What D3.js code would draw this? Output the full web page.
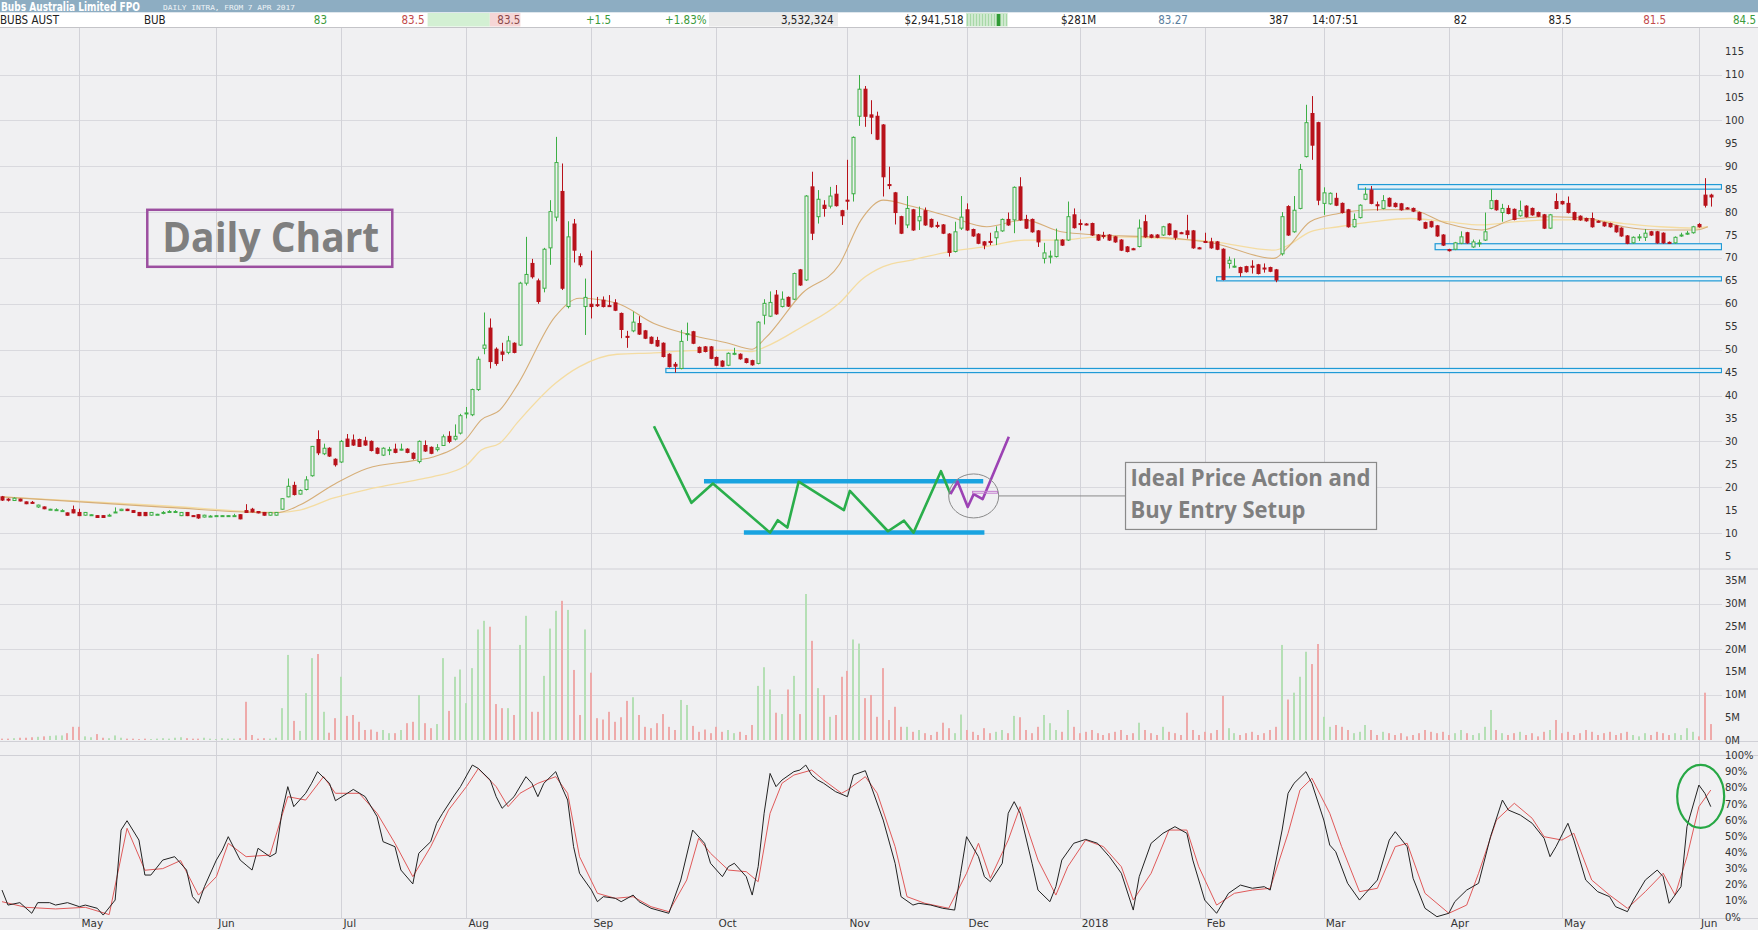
<!DOCTYPE html>
<html><head><meta charset="utf-8">
<script src="https://cdn.jsdelivr.net/npm/d3@7/dist/d3.min.js"></script>
<style>html,body{margin:0;padding:0;background:#f0f0f2;overflow:hidden}</style>
</head><body><svg id="c" width="1758" height="930"></svg>
<script>
// ---------------- DATA ----------------
const monthDays=[13,23,21,21,21,21,22,20,19,21,20,21,19,23,3];
const monthLabels=["","May","Jun","Jul","Aug","Sep","Oct","Nov","Dec","2018","Feb","Mar","Apr","May","Jun"];
const priceTicks=[115,110,105,100,95,90,85,80,75,70,65,60,55,50,45,40,35,30,25,20,15,10,5];
const priceGrid=[110,100,90,80,70,60,50,40,30,20,10];
const volTicks=[35,30,25,20,15,10,5,0];
const volGrid=[30,20,10];
const stochTicks=[100,90,80,70,60,50,40,30,20,10,0];
// [open, high, low, close]
const ohlc=[
[17.9,18.1,17.0,17.2],[17.4,17.6,16.9,17.2],[17.1,17.8,17.0,17.6],[17.4,17.5,16.9,17.0],[16.8,16.9,16.3,16.4],[16.7,17.0,16.4,16.6],[15.7,16.2,15.5,16.1],[15.7,15.8,15.2,15.3],[15.2,15.3,15.1,15.2],[15.1,15.4,14.9,15.1],[14.9,15.2,14.6,14.9],[14.4,14.5,13.8,13.9],[15.1,16.0,14.3,14.4],
// May 2017
[14.5,15.3,13.7,13.8],[13.9,14.6,13.8,14.5],[14.0,14.1,13.9,14.0],[13.8,13.9,13.3,13.4],[13.8,13.9,13.3,13.4],[13.8,14.2,13.6,13.9],[14.6,15.6,14.5,14.6],[14.9,15.3,14.8,15.2],[15.2,15.3,14.8,14.9],[14.9,15.0,14.4,14.5],[14.5,14.6,13.7,13.8],[14.5,14.6,13.7,13.8],[13.9,14.6,13.8,14.5],[14.1,14.2,14.0,14.1],[14.4,14.8,14.1,14.5],[14.6,15.0,14.5,14.7],[14.6,15.0,14.5,14.7],[13.8,14.6,13.7,14.5],[14.5,14.6,13.7,13.8],[13.8,13.9,13.6,13.7],[14.0,14.1,13.1,13.3],[13.5,14.0,13.4,13.9],[13.7,13.9,13.6,13.7],
// Jun
[13.8,13.9,13.7,13.8],[13.8,13.9,13.7,13.8],[13.8,13.9,13.7,13.8],[13.8,14.2,13.6,13.8],[14.0,14.1,13.0,13.1],[14.9,16.3,14.4,14.5],[15.2,15.5,14.5,14.6],[14.7,14.8,14.3,14.4],[14.5,14.6,13.8,13.9],[13.9,14.6,13.8,14.5],[13.9,14.6,13.8,14.5],[15.2,17.6,15.1,17.5],[17.9,21.9,17.8,20.2],[20.4,21.2,18.2,18.4],[18.5,19.5,18.4,19.3],[19.5,22.4,19.3,21.6],[22.5,29.0,22.3,28.9],[30.4,32.4,27.0,27.5],[27.3,29.5,27.0,28.5],[28.5,28.7,26.6,26.8],[26.1,26.3,24.5,24.9],
// Jul
[25.5,30.3,25.3,30.0],[30.5,31.6,28.8,28.9],[30.3,31.5,29.0,29.2],[30.4,30.6,28.8,28.9],[30.1,31.0,29.0,29.2],[30.0,30.2,27.8,28.0],[28.5,28.7,27.2,27.4],[27.0,28.7,26.8,28.5],[28.0,28.8,27.0,28.2],[28.3,29.5,27.4,27.6],[28.3,29.5,28.0,28.3],[28.3,28.5,27.4,27.6],[27.4,27.6,26.0,26.3],[25.6,30.2,25.2,30.0],[29.1,30.2,27.7,27.9],[28.7,28.9,27.2,27.4],[28.2,29.4,27.8,28.6],[29.1,31.5,29.0,31.0],[31.1,32.2,29.6,30.0],[30.5,33.7,30.2,31.1],[31.8,36.0,31.5,35.6],
// Aug
[36.0,37.5,35.0,36.2],[35.8,41.5,35.5,41.3],[41.3,48.5,41.0,47.9],[50.3,58.1,49.0,51.0],[54.7,56.8,45.9,47.4],[50.1,50.5,46.5,47.0],[49.5,51.5,47.5,49.0],[49.4,53.0,49.0,51.9],[51.4,51.6,49.2,49.4],[51.0,64.8,50.8,64.5],[64.5,74.6,64.0,66.4],[68.8,69.8,65.5,65.9],[65.0,65.5,60.0,60.5],[63.4,72.2,62.5,71.9],[72.2,82.6,68.5,80.1],[78.9,96.4,78.0,90.8],[84.5,90.6,63.0,63.4],[59.4,78.0,59.0,74.6],[77.4,78.5,69.0,71.7],[70.3,71.0,68.0,68.5],[59.4,65.5,53.2,61.4],
// Sep
[59.9,71.6,56.8,59.4],[59.8,61.5,59.3,59.7],[60.8,61.6,59.2,59.4],[59.6,61.9,59.3,59.5],[60.2,61.0,58.4,58.6],[57.9,58.1,52.5,54.4],[52.9,54.1,50.4,52.8],[54.1,58.3,53.8,56.0],[55.7,57.3,53.2,53.4],[54.1,54.3,52.3,52.5],[52.7,52.9,51.2,51.4],[52.0,52.8,50.6,50.8],[51.4,51.6,48.3,48.5],[49.0,49.2,46.1,46.3],[46.8,47.3,45.0,46.4],[45.9,54.3,45.7,51.8],[53.4,55.9,51.9,53.5],[53.9,54.1,51.2,51.4],[50.5,50.7,49.2,49.4],[50.6,50.8,49.4,49.6],[50.6,50.8,47.9,48.1],
// Oct
[48.3,48.5,46.4,46.6],[47.5,47.7,46.2,46.4],[46.6,49.4,46.4,49.2],[49.0,50.4,48.8,49.2],[49.0,49.2,47.8,48.0],[48.0,48.2,47.0,47.2],[47.6,47.8,46.5,46.7],[47.0,56.2,46.8,56.0],[57.5,61.0,55.5,60.1],[57.3,62.7,57.1,60.3],[61.9,63.0,57.6,57.8],[59.4,62.7,59.2,61.0],[61.4,61.6,59.3,59.5],[61.0,66.8,60.8,66.6],[67.4,67.6,63.9,64.1],[65.2,83.7,65.0,83.5],[85.5,88.8,73.9,75.4],[79.0,84.8,77.5,82.8],[81.5,82.6,79.0,80.8],[81.3,85.5,80.8,83.5],[83.9,85.9,81.2,81.4],[80.3,80.5,77.2,79.2],
// Nov
[82.6,91.4,80.5,82.4],[84.0,96.5,82.3,96.3],[100.9,109.9,98.8,106.8],[106.8,107.5,98.6,100.9],[101.2,104.4,97.0,100.7],[100.9,101.9,95.7,95.9],[99.0,99.2,83.4,87.7],[86.0,89.9,85.0,85.8],[84.2,84.4,77.3,79.9],[79.0,79.2,75.2,75.4],[77.2,83.5,76.5,80.8],[80.5,80.7,75.9,76.1],[78.1,81.2,76.1,79.0],[80.3,81.0,77.0,77.2],[78.4,78.6,76.6,76.8],[77.1,77.9,76.5,77.0],[77.2,77.4,75.2,75.4],[75.2,75.4,70.3,71.2],[71.4,77.9,71.2,75.7],[76.5,83.5,76.1,78.9],
// Dec
[80.5,81.9,75.9,76.1],[76.2,76.4,74.6,74.8],[75.2,75.4,73.0,73.2],[73.5,73.7,71.9,72.8],[73.6,75.5,72.8,73.5],[74.4,76.9,72.8,75.7],[75.9,78.6,75.7,78.4],[78.4,79.9,77.0,77.2],[78.3,85.6,75.4,85.4],[85.5,87.6,78.1,78.3],[78.4,79.4,76.3,76.5],[78.4,78.6,75.5,75.7],[75.9,76.1,72.4,73.5],[69.9,73.3,68.8,71.1],[70.3,71.6,68.8,70.4],[70.3,76.4,70.1,73.9],[73.9,74.1,72.6,72.8],[73.9,82.3,73.7,79.0],[79.4,80.8,76.4,76.6],
// Jan 2018
[77.5,78.4,76.0,77.4],[77.4,77.6,77.1,77.3],[77.5,77.7,74.8,75.0],[75.0,75.2,73.7,73.9],[74.9,75.7,74.2,74.8],[75.0,75.2,73.7,73.9],[74.6,74.8,73.3,73.5],[73.9,74.1,71.5,71.7],[72.4,72.6,71.2,71.4],[72.0,72.2,71.7,71.9],[72.5,78.4,72.3,76.5],[77.9,79.4,74.4,74.6],[75.0,75.2,74.3,74.5],[75.0,75.2,74.3,74.5],[75.0,77.0,74.8,76.8],[77.4,77.6,74.9,75.1],[75.9,76.1,73.9,74.5],[75.5,75.7,75.2,75.4],[75.9,79.4,74.2,75.1],[75.9,76.1,72.0,72.2],[72.2,72.4,71.9,72.1],
// Feb
[73.6,75.5,73.3,73.5],[73.5,74.4,72.0,72.2],[73.5,73.7,71.7,71.9],[71.9,72.1,65.1,65.3],[68.8,70.3,67.7,69.5],[68.1,69.9,67.9,68.2],[67.9,68.1,65.9,66.8],[68.1,68.3,66.8,67.0],[68.2,69.5,66.6,68.1],[68.5,68.7,66.4,66.6],[67.8,68.8,66.8,67.7],[67.9,68.1,66.9,67.1],[67.4,67.6,64.7,65.2],[70.9,80.0,70.5,79.0],[81.2,81.5,74.8,75.0],[75.7,83.5,75.5,80.4],[80.8,90.5,80.6,89.3],[92.1,103.4,91.9,99.5],[101.5,105.3,91.4,94.6],[99.5,99.7,81.5,82.6],
// Mar
[81.9,85.4,79.4,84.2],[81.8,84.3,81.6,84.1],[83.0,84.2,81.3,81.5],[81.9,82.1,79.7,79.9],[80.5,80.7,76.6,76.8],[76.8,79.7,76.6,78.4],[78.8,81.7,78.6,81.5],[82.8,85.4,82.6,83.9],[84.8,85.7,81.7,81.9],[81.6,82.3,80.3,81.5],[80.8,83.7,80.6,82.5],[83.0,83.2,81.1,81.3],[81.9,82.1,81.0,81.2],[81.8,82.0,80.3,80.5],[80.9,81.1,80.6,80.8],[80.8,81.0,80.0,80.2],[79.9,80.1,78.1,78.3],[77.7,77.9,76.3,76.5],[77.9,78.1,76.6,76.8],[77.0,77.2,74.6,74.8],[75.0,75.2,72.6,72.8],
// Apr
[71.8,72.0,71.4,71.7],[71.9,73.5,71.7,73.3],[73.2,75.8,73.0,74.6],[75.5,75.7,73.1,73.3],[72.4,74.0,72.2,73.5],[73.2,74.0,72.4,73.3],[73.9,79.9,73.7,75.7],[80.8,85.0,80.6,82.5],[82.5,82.7,80.3,80.5],[79.9,81.8,77.9,80.8],[80.8,81.5,79.5,79.7],[80.6,80.8,78.2,78.4],[79.2,82.5,79.0,80.3],[81.3,81.5,78.8,79.0],[80.8,81.0,79.2,79.4],[79.9,80.1,78.9,79.1],[79.4,79.6,76.3,76.5],[76.5,79.6,76.3,79.4],[82.3,84.1,80.6,80.8],
// May
[82.3,82.5,81.6,81.8],[81.9,83.4,79.7,79.9],[79.9,80.1,78.2,78.4],[79.1,79.3,78.1,78.3],[78.6,78.8,77.9,78.1],[78.6,79.9,76.6,76.8],[78.0,78.2,77.7,77.9],[77.7,77.9,76.8,77.0],[77.5,77.7,76.6,76.8],[77.0,77.2,75.5,75.7],[76.5,76.7,74.6,74.8],[74.8,75.0,73.0,73.2],[73.3,74.7,73.1,74.5],[74.5,75.2,73.7,74.6],[74.5,76.3,73.7,75.4],[75.7,75.9,74.8,75.0],[75.7,75.9,73.1,73.3],[75.4,75.6,73.1,73.3],[73.4,73.6,73.1,73.3],[73.3,74.7,73.1,74.5],[74.9,75.5,74.6,75.0],[75.3,75.9,75.0,75.4],[75.5,77.0,75.3,76.8],
// Jun
[77.3,77.6,76.6,76.8],[83.7,87.4,81.0,81.5],[83.7,84.0,81.2,83.3]
];
// volume in millions, one per day
const volume=[
0.3,0.3,0.4,0.5,0.5,0.6,0.7,0.8,0.9,1.0,1.0,1.5,2.9,
2.9,0.8,0.6,1.3,0.5,0.4,1.0,0.5,0.3,0.3,0.2,0.3,0.2,0.3,0.4,0.3,0.5,0.6,0.4,0.3,0.3,0.5,0.3,
0.2,0.4,0.3,0.3,0.4,8.4,1.1,0.3,0.4,0.3,0.5,7.0,18.7,4.2,2.0,10.3,18.0,18.9,6.2,1.6,4.8,
13.9,5.3,5.5,4.0,2.2,2.3,1.8,2.2,1.5,1.5,2.2,3.7,4.0,9.9,3.7,2.6,3.5,18.0,6.4,13.9,15.5,
8.1,15.8,24.3,26.2,24.9,7.9,7.0,7.0,5.5,20.9,27.3,6.2,6.2,14.1,24.5,28.4,30.6,28.6,15.4,5.5,24.3,
14.8,4.8,4.5,6.2,4.0,5.0,8.6,9.4,5.5,2.9,2.6,3.7,5.7,2.9,2.2,8.8,7.7,3.1,1.8,2.3,1.5,
2.9,1.8,2.2,1.5,1.8,1.1,3.3,11.9,16.0,11.1,6.0,5.7,11.1,14.1,5.7,32.1,21.8,11.4,9.9,5.1,5.5,13.9,
15.2,22.1,21.2,9.2,9.9,5.1,15.8,4.4,7.3,2.9,2.9,1.8,2.2,1.5,1.1,1.8,3.8,2.6,1.5,5.6,
2.2,1.8,1.1,2.6,1.5,1.8,2.2,1.5,5.3,5.0,2.2,1.5,2.9,5.5,3.7,2.2,1.8,6.6,2.9,
1.5,1.8,2.2,1.5,1.1,1.5,1.8,2.2,1.1,1.5,3.8,2.2,1.5,1.1,2.9,1.8,1.5,1.1,6.0,2.2,1.1,
1.8,1.5,2.2,9.7,2.6,1.5,1.1,1.5,1.8,1.1,1.5,2.2,2.9,20.9,8.9,10.4,13.9,19.4,16.7,21.1,
5.1,2.9,3.3,2.9,2.2,1.5,1.8,3.3,2.2,1.1,1.8,1.5,1.1,1.5,0.8,1.1,1.5,2.2,1.8,1.5,1.8,
1.1,1.5,2.2,1.5,1.1,1.5,2.9,6.6,2.2,1.5,1.1,1.5,1.8,1.1,1.5,0.8,1.8,2.2,4.4,
1.5,1.8,1.1,1.5,2.2,1.8,1.1,1.5,1.8,1.1,1.5,1.8,1.1,0.8,1.5,1.1,1.8,1.5,1.1,1.5,1.1,2.6,1.8,
0.8,10.4,3.5
];
// moving averages: [day index, price]
const maShort=[[0,17.9],[27.7,15.6],[46.1,14.4],[50,16.1],[55.6,20.5],[61.3,24.1],[69.7,25.9],[72.4,26.6],[78,30.6],[80.5,34.7],[83.6,36.8],[86.7,42.6],[92.9,57.2],[97,61.2],[103.3,60.1],[109.5,55.7],[115.7,53.2],[122,51.4],[126,50.1],[128.2,52.5],[134.4,62.3],[140.6,68.5],[144.3,78.3],[148,82.6],[153,81.2],[159.2,79.0],[165.4,76.8],[171.7,78.3],[177.9,75.7],[184.1,75.0],[194.5,74.5],[203.5,73.2],[213.6,69.9],[216.1,72.5],[219.7,77.9],[224.5,79.7],[230.4,80.5],[236.5,80.5],[242.5,77.6],[248.5,76.1],[254.4,78.6],[260.5,79.0],[266.5,78.6],[272.4,76.8],[278.5,76.1],[284.5,76.1],[286.5,76.8]];
const maLong=[[0,17.9],[27.7,15.9],[46.1,14.5],[50,15.0],[55.6,17.6],[61.3,19.5],[69.7,21.6],[72.4,22.3],[78,24.8],[80.5,28.1],[83.6,29.6],[86.7,34.3],[92.9,42.6],[97,46.3],[103.3,49.0],[109.5,49.3],[115.7,49.8],[122,49.9],[126,49.6],[128.2,50.6],[134.4,55.0],[140.6,60.1],[144.3,65.2],[148,68.1],[153,69.6],[159.2,71.4],[165.4,72.5],[171.7,73.9],[177.9,73.9],[184.1,74.6],[194.5,74.3],[203.5,73.5],[213.6,71.7],[216.1,72.8],[219.7,75.7],[224.5,76.8],[230.4,77.9],[236.5,78.6],[242.5,77.9],[248.5,77.2],[254.4,77.9],[260.5,78.3],[266.5,78.3],[272.4,77.5],[278.5,76.8],[284.5,76.5],[286.5,76.8]];
// stochastic %K (black) and %D (red): [day index, percent]
const stochK=[[0,16.7],[1,7.4],[3,8.9],[5,2.3],[6,8.9],[8,8.9],[9,7.4],[11,8.9],[13,6.4],[14,7.4],[16,5.4],[17,1.2],[19,10.5],[20,53.9],[21,59.7],[23,47.7],[24,26],[25,26],[27,35.3],[29,37.4],[31,29.1],[32,12.6],[33,8.5],[34,18.8],[36,35.3],[37,41.5],[38,49.8],[40,35.3],[41,32.2],[42,29.1],[43,42.6],[45,37.4],[46,39.5],[47,64.3],[48,80.8],[49,68.4],[51,76.7],[52,82.9],[53,90.1],[55,82.9],[56,72.1],[58,76.7],[59,79.1],[61,74.6],[63,62.2],[64,46.7],[66,43.6],[67,29.1],[69,20.5],[70,39.5],[72,46.7],[73,58.1],[74,64.3],[76,75.6],[77,80.8],[79,94.2],[80,92.1],[82,84.9],[83,74.6],[84,67.4],[86,74.6],[88,87],[89,82.9],[90,74.6],[91,82.9],[93,90.1],[94,80.8],[95,72.5],[96,43.6],[97,27.1],[99,16.7],[100,9.5],[101,12.6],[103,11.6],[104,9.5],[106,13.6],[107,9.5],[109,5.4],[112,2.3],[114,22.9],[116,53.9],[118,45.7],[119,33.3],[121,25],[122,31.2],[123,33.3],[125,25],[126,13.6],[127,31.2],[128,64.3],[129,89],[130,80.8],[131,84.9],[133,90.1],[134,91.1],[135,94.2],[136,88],[137,84.9],[138,82.9],[140,77.7],[142,74.6],[143,88],[145,90.7],[146,80.8],[148,60.1],[150,33.3],[151,12.6],[153,7.4],[154,8.5],[156,7.4],[158,5.4],[160,4.3],[161,27.1],[162,49.8],[164,37.4],[165,25],[166,21.9],[168,33.3],[169,64.3],[170,71.5],[171,64.3],[173,33.3],[174,16.7],[176,9.5],[177,18.8],[178,35.3],[180,45.7],[182,48.1],[184,45.7],[186,37.4],[188,27.1],[190,4.3],[191,25],[193,45.7],[195,51.9],[197,56],[199,51.9],[200,35.3],[202,10.5],[204,2.3],[206,14.7],[208,19.8],[210,17.8],[212,18.8],[213,16.7],[215,53.9],[216,76.7],[217,82.9],[219,90.1],[220,82.9],[222,60.1],[223,44.6],[224,40.5],[226,20.9],[228,10.5],[229,14.7],[231,22.9],[233,47.7],[234,52.9],[236,43.6],[237,24],[239,5.4],[241,0.2],[243,2.3],[244,9.5],[246,16.7],[248,20.9],[250,49.8],[252,72.5],[253,66.3],[255,63.2],[257,58.1],[259,48.8],[260,37.4],[261,43.6],[263,58.1],[264,47.7],[266,22.9],[268,15.7],[270,12.6],[271,6.4],[273,3.3],[274,10.5],[276,22.9],[278,29.1],[279,25],[280,8.5],[282,18.8],[283,56],[285,81.8],[286,76.7],[287,68.4]];
const stochD=[[0,9.5],[4,6],[9,5],[14,6],[18,1.5],[21,55],[24,29],[27,30],[30,35],[33,13.6],[36,25],[38,45.7],[41,37.4],[45,38.4],[48,74.6],[51,72.5],[54,87],[56,76.7],[60,76.7],[63,64.3],[66,45.7],[69,25],[72,43.6],[75,66.3],[78,80.8],[80,92],[83,80.8],[85,68.4],[87,76.7],[90,82.9],[93,87],[95,76.7],[97,37.4],[100,14.7],[103,11.6],[106,12.6],[109,6.4],[112,3.3],[115,22.9],[117,48.8],[119,39.5],[122,29.1],[125,28.1],[127,21.9],[129,64.3],[131,82.9],[133,88],[136,91.1],[138,84.9],[141,76.7],[142,78.7],[145,87],[147,76.7],[150,43.6],[152,12.6],[155,8.5],[159,5.4],[162,27.1],[164,45.7],[166,24],[169,47.7],[171,68.4],[174,35.3],[177,13.6],[179,31.2],[182,47.7],[185,43.6],[188,31.2],[190,10.5],[193,27.1],[196,53.9],[199,53.9],[201,31.2],[204,7.4],[207,14.7],[210,16.7],[213,17.8],[216,51.9],[218,78.7],[220,86],[223,64.3],[225,43.6],[228,15.7],[231,17.8],[234,43.6],[236,45.7],[239,14.7],[243,2.3],[246,7.4],[248,27.1],[251,60.1],[254,70.5],[257,61.2],[259,49.8],[262,47.7],[264,51.9],[267,22.9],[270,13.6],[273,5.4],[276,15.7],[279,27.1],[281,13.6],[283,37.4],[285,68.4],[287,78.7]];
// support / resistance boxes: start day, price low, price high
const levelStart=[111.5,204,240.7,227.8];
const levelLow=[45.0,65.0,71.8,85.0];
const levelHigh=[45.9,65.9,73.1,86.0];
// hand-drawn "ideal price action" sketch, in [day, price]
const sketchGreen=[[109.5,33.3],[115.8,16.6],[119.4,20.8],[129,10.1],[130.3,12.8],[131.9,11.2],[133.8,21.2],[141.4,15.0],[142.4,19.2],[148.8,10.4],[151.5,12.7],[153.1,10.1],[157.7,23.5],[159.3,18.5]];
const sketchPurple=[[159.3,18.5],[160.5,21.2],[162.2,15.7],[163.2,18.5],[164.7,17.4],[169.1,31.0]];
const sketchTop=[[117.9,21.3],[164.8,21.3]];
const sketchBottom=[[124.6,10.1],[165,10.1]];
const quoteFields=["BUBS AUST","BUB","83","83.5","83.5","+1.5","+1.83%","3,532,324","$2,941,518","$281M","83.27","387","14:07:51","82","83.5","81.5","84.5"];
const titleText="Bubs Australia Limited FPO";
const subtitleText="DAILY INTRA, FROM 7 APR 2017";
const note1=["Ideal Price Action and","Buy Entry Setup"];
const note2="Daily Chart";

// ---------------- DRAW ----------------
const svg=d3.select("#c");
const W=1758,H=930,plotRight=1722;
const N=ohlc.length;
const step=5.954;
const x=d3.scaleLinear().domain([0,N-1]).range([2,2+(N-1)*step]);
const y=d3.scaleLinear().domain([5,115]).range([556,51.6]);
const yv=d3.scaleLinear().domain([0,35]).range([740,580.8]);
const ys=d3.scaleLinear().domain([0,100]).range([917,755.7]);
const monthStart=[];{let s=0;monthDays.forEach(d=>{monthStart.push(s);s+=d;});}

svg.append("rect").attr("width",W).attr("height",H).attr("fill","#f0f0f2");
const defs=svg.append("defs");
defs.append("clipPath").attr("id","plot").append("rect").attr("x",0).attr("y",28).attr("width",plotRight).attr("height",890);

const AX="DejaVu Sans, Verdana, sans-serif";
// grid
const g=svg.append("g");
g.selectAll(".hg").data(priceGrid).enter().append("line").attr("x1",0).attr("x2",plotRight)
 .attr("y1",d=>Math.round(y(d))+0.5).attr("y2",d=>Math.round(y(d))+0.5).attr("stroke","#d9d9de");
g.selectAll(".vg").data(volGrid).enter().append("line").attr("x1",0).attr("x2",plotRight)
 .attr("y1",d=>Math.round(yv(d))+0.5).attr("y2",d=>Math.round(yv(d))+0.5).attr("stroke","#d9d9de");
g.selectAll(".mg").data(monthStart.slice(1)).enter().append("line")
 .attr("x1",d=>Math.round(x(d))+0.5).attr("x2",d=>Math.round(x(d))+0.5).attr("y1",28).attr("y2",918).attr("stroke","#d2d2d8");
// panel separators
[[569],[741.5],[755.5],[918.5]].forEach(v=>g.append("line").attr("x1",0).attr("x2",W).attr("y1",v[0]).attr("y2",v[0]).attr("stroke","#d0d0d6"));

const plot=svg.append("g").attr("clip-path","url(#plot)");
// support/resistance boxes
plot.selectAll(".lvl").data(levelStart).enter().append("rect")
 .attr("x",d=>x(d)).attr("width",d=>plotRight-x(d)-0.5)
 .attr("y",(d,i)=>y(levelHigh[i])).attr("height",(d,i)=>y(levelLow[i])-y(levelHigh[i]))
 .attr("fill","#e4f1f8").attr("stroke","#1f9ad6").attr("stroke-width",1.2);

// moving averages
const ln=d3.line().x(d=>x(d[0])).y(d=>y(d[1])).curve(d3.curveMonotoneX);
plot.append("path").attr("d",ln(maLong)).attr("fill","none").attr("stroke","#f4dca2").attr("stroke-width",1.3);
plot.append("path").attr("d",ln(maShort)).attr("fill","none").attr("stroke","#d6ae78").attr("stroke-width",1.1);

// candles
const up="#3daf45",dn="#b8121b";
const cg=plot.selectAll(".cd").data(ohlc).enter().append("g");
cg.append("line").attr("x1",(d,i)=>Math.round(x(i))+0.5).attr("x2",(d,i)=>Math.round(x(i))+0.5)
 .attr("y1",d=>y(d[1])).attr("y2",d=>y(d[2])).attr("stroke",d=>d[3]>=d[0]?up:dn).attr("stroke-width",1);
cg.append("rect").attr("x",(d,i)=>Math.round(x(i))-1)
 .attr("width",3)
 .attr("y",d=>y(Math.max(d[0],d[3])))
 .attr("height",d=>Math.max(1,Math.abs(y(d[0])-y(d[3]))))
 .attr("fill",d=>d[3]>=d[0]?"#f0f0f2":dn)
 .attr("stroke",d=>d[3]>=d[0]?up:dn).attr("stroke-width",1);

// volume
plot.selectAll(".vb").data(volume).enter().append("rect")
 .attr("x",(d,i)=>Math.round(x(i))-1).attr("width",2)
 .attr("y",d=>yv(d)).attr("height",d=>yv(0)-yv(d))
 .attr("fill",(d,i)=>ohlc[i][3]>=ohlc[i][0]?"#b5dfb5":"#eeaaaa");

// stochastic
const sl=d3.line().x(d=>x(d[0])).y(d=>ys(d[1]));
plot.append("path").attr("d",sl(stochD)).attr("fill","none").attr("stroke","#e05a5a").attr("stroke-width",1);
plot.append("path").attr("d",sl(stochK)).attr("fill","none").attr("stroke","#222").attr("stroke-width",1);

// sketch annotation
const sk=d3.line().x(d=>x(d[0])).y(d=>y(d[1]));
svg.append("path").attr("d",sk(sketchTop)).attr("stroke","#19a3e0").attr("stroke-width",4.5);
svg.append("path").attr("d",sk(sketchBottom)).attr("stroke","#19a3e0").attr("stroke-width",4.5);
svg.append("path").attr("d",sk(sketchGreen)).attr("fill","none").attr("stroke","#2aae4b").attr("stroke-width",2.6).attr("stroke-linejoin","round");
svg.append("path").attr("d",sk(sketchPurple)).attr("fill","none").attr("stroke","#9c42b4").attr("stroke-width",2.6).attr("stroke-linejoin","round");
svg.append("rect").attr("x",x(163)).attr("y",y(19.1)).attr("width",x(167.2)-x(163)).attr("height",y(18.7)-y(19.1))
 .attr("fill","none").attr("stroke","#c47ccf").attr("stroke-width",1);
const ecx=x(163.2),ecy=y(18.1);
svg.append("ellipse").attr("cx",ecx).attr("cy",ecy).attr("rx",25).attr("ry",22).attr("fill","none").attr("stroke","#8a8a8a").attr("stroke-width",1);
const bx=x(188.7),by=y(25.4);
svg.append("line").attr("x1",ecx+25).attr("x2",bx).attr("y1",ecy).attr("y2",ecy).attr("stroke","#8a8a8a").attr("stroke-width",1);
svg.append("rect").attr("x",bx).attr("y",by).attr("width",251).attr("height",67).attr("fill","#f0f0f2").attr("stroke","#8a8a8a").attr("stroke-width",1.2);
const NF="'Open Sans', 'Noto Sans', sans-serif";
svg.append("text").attr("x",bx+5).attr("y",by+24).attr("font-family",NF).attr("font-weight",700).attr("font-size",24)
 .attr("fill","#7f7f7f").attr("textLength",240).attr("lengthAdjust","spacingAndGlyphs").text(note1[0]);
svg.append("text").attr("x",bx+5).attr("y",by+56).attr("font-family",NF).attr("font-weight",700).attr("font-size",24)
 .attr("fill","#7f7f7f").attr("textLength",175).attr("lengthAdjust","spacingAndGlyphs").text(note1[1]);
// daily chart label
const dx=x(24.4),dy=y(80.5);
svg.append("rect").attr("x",dx).attr("y",dy).attr("width",245).attr("height",57).attr("fill","none").attr("stroke","#9c4fa0").attr("stroke-width",2.5);
svg.append("text").attr("x",dx+15).attr("y",dy+42.5).attr("font-family",NF).attr("font-weight",700).attr("font-size",42)
 .attr("fill","#7f7f7f").attr("textLength",217).attr("lengthAdjust","spacingAndGlyphs").text(note2);
// green ellipse on stochastic
svg.append("ellipse").attr("cx",x(285.3)).attr("cy",ys(74.8)).attr("rx",23.5).attr("ry",31.5).attr("fill","none").attr("stroke","#27a845").attr("stroke-width",2.2);

// right axes
const ra=svg.append("g").attr("font-family",AX).attr("font-size",10).attr("fill","#333");
ra.selectAll(".pt").data(priceTicks).enter().append("text").attr("x",1725).attr("y",d=>y(d)+3.5).text(d=>d);
ra.selectAll(".vt").data(volTicks).enter().append("text").attr("x",1725).attr("y",d=>yv(d)+3.5).text(d=>d+"M");
ra.selectAll(".st").data(stochTicks).enter().append("text").attr("x",1725).attr("y",d=>ys(d)+3.5).text(d=>d+"%");
// x labels
svg.append("g").attr("font-family",AX).attr("font-size",10.5).attr("fill","#333")
 .selectAll("text").data(monthStart.slice(1)).enter().append("text")
 .attr("x",d=>x(d)+2).attr("y",926.5).text((d,i)=>monthLabels[i+1]);

// header
const hf="'Liberation Sans Narrow','DejaVu Sans Condensed','Liberation Sans',sans-serif";
svg.append("rect").attr("x",0).attr("y",0).attr("width",W).attr("height",12.5).attr("fill","#8dadc2");
svg.append("text").attr("x",1).attr("y",10.5).attr("font-family",hf).attr("font-weight",700).attr("font-size",12)
 .attr("fill","#fff").attr("textLength",139).attr("lengthAdjust","spacingAndGlyphs").text(titleText);
svg.append("text").attr("x",163).attr("y",9.5).attr("font-family","'DejaVu Sans Mono',monospace").attr("font-size",7)
 .attr("fill","#eef3f6").attr("textLength",132).attr("lengthAdjust","spacingAndGlyphs").text(subtitleText);
svg.append("rect").attr("x",0).attr("y",12.5).attr("width",W).attr("height",14.5).attr("fill","#ffffff");
svg.append("line").attr("x1",0).attr("x2",W).attr("y1",27.5).attr("y2",27.5).attr("stroke","#c4c4c8");
[[427.6,62.2,"#d3f0d3"],[489.8,30.6,"#f6d6d6"],[709,129,"#ebebeb"],[966,41.7,"#cfe9cf"]].forEach(b=>
 svg.append("rect").attr("x",b[0]).attr("y",13).attr("width",b[1]).attr("height",13.5).attr("fill",b[2]));
for(let k=0;k<14;k++){svg.append("line").attr("x1",967.5+k*3).attr("x2",967.5+k*3).attr("y1",14).attr("y2",26).attr("stroke","#a7d8a7");}
svg.append("rect").attr("x",996.7).attr("y",14).attr("width",3.5).attr("height",12).attr("fill","#2f9a35");
const qx=[0,143.9,327,424.5,520.4,611,706.6,833.6,963.7,1096.3,1187.9,1288.7,1311.9,1467,1571.5,1666.2,1756];
const qa=["start","start","end","end","end","end","end","end","end","end","end","end","start","end","end","end","end"];
const qc=["#222","#222","#3a9a3a","#c24a4a","#8a4a4a","#3a9a3a","#3a9a3a","#222","#222","#222","#5d7f9e","#222","#222","#222","#222","#c24a4a","#3a9a3a"];
svg.append("g").attr("font-family",hf).attr("font-size",11.5)
 .selectAll("text").data(quoteFields).enter().append("text")
 .attr("x",(d,i)=>qx[i]).attr("y",24).attr("text-anchor",(d,i)=>qa[i]).attr("fill",(d,i)=>qc[i]).text(d=>d);
</script></body></html>
